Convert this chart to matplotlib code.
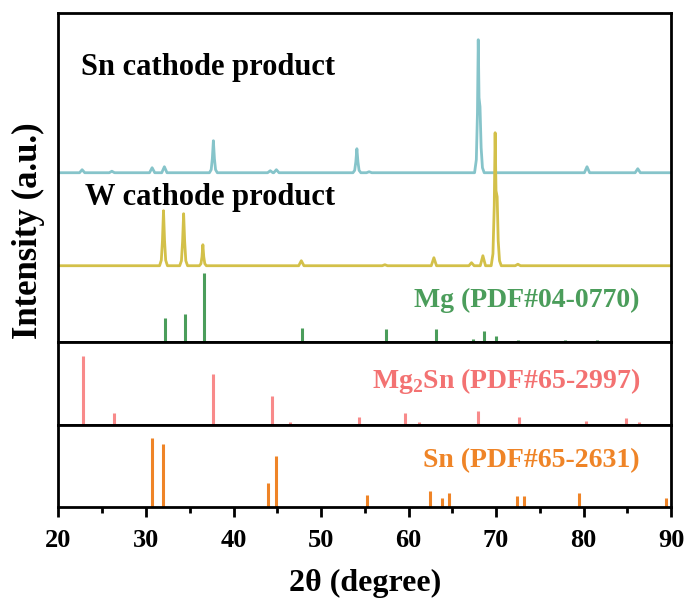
import numpy as np
import matplotlib
matplotlib.use("Agg")
import matplotlib.pyplot as plt
from matplotlib.ticker import MultipleLocator

plt.rcParams['font.family'] = ['Liberation Serif', 'DejaVu Serif']
plt.rcParams['font.weight'] = 'bold'
plt.rcParams['axes.labelweight'] = 'bold'
plt.rcParams['mathtext.fontset'] = 'custom'
plt.rcParams['mathtext.rm'] = 'Liberation Serif:bold'
plt.rcParams['mathtext.bf'] = 'Liberation Serif:bold'

# measured patterns (2theta, intensity a.u. above own baseline)
sn_x = [20, 22.4, 22.7, 23.0, 25.8, 26.1, 26.4, 30.4, 30.7, 31.0, 31.8, 32.1, 32.4,
        37.25, 37.45, 37.58, 37.7, 37.82, 37.95, 38.15,
        43.9, 44.2, 44.5, 44.6, 44.9, 45.2,
        53.65, 53.85, 53.98, 54.1, 54.22, 54.35, 54.55, 55.2, 55.5, 55.8,
        67.55, 67.75, 67.88, 67.97, 68.06, 68.17, 68.3, 68.45, 68.65,
        80.1, 80.4, 80.7, 85.9, 86.2, 86.5, 90]
sn_y = [0, 0, 3, 0, 0, 1.5, 0, 0, 5, 0, 0, 6, 0,
        0, 3, 14, 32, 14, 3, 0,
        0, 2, 0, 0, 3, 0,
        0, 2.4, 11, 24, 11, 2.4, 0, 0, 1, 0,
        0, 13, 60, 133, 75, 66, 25, 5, 0,
        0, 6, 0, 0, 4, 0, 0]

w_x = [20, 31.55, 31.75, 31.88, 32.0, 32.12, 32.25, 32.45,
       33.85, 34.05, 34.18, 34.3, 34.42, 34.55, 34.75,
       36.1, 36.28, 36.4, 36.5, 36.6, 36.72, 36.9,
       47.45, 47.75, 48.05, 57.0, 57.3, 57.6,
       62.6, 62.9, 63.2, 66.9, 67.2, 67.5, 68.2, 68.5, 68.8,
       69.45, 69.65, 69.8, 69.9, 70.0, 70.13, 70.25, 70.4, 70.6,
       72.2, 72.5, 72.8, 90]
w_y = [0, 0, 5.5, 25, 55, 25, 5.5, 0,
       0, 5, 24, 52, 24, 5, 0,
       0, 2, 9, 21, 9, 2, 0,
       0, 5, 0, 0, 1, 0,
       0, 8, 0, 0, 3, 0, 0, 10, 0,
       0, 12, 60, 133, 75, 69, 25, 5, 0,
       0, 1.5, 0, 0]

# reference cards (2theta, relative intensity %)
mg_pos = [32.2, 34.4, 36.6, 47.8, 57.4, 63.1, 67.4, 68.6, 70.0, 72.5, 77.9, 81.5]
mg_int = [34, 40, 100, 20, 18, 18, 3.5, 16, 9, 3, 3, 3]

mg2sn_pos = [22.8, 26.4, 37.6, 44.4, 46.5, 54.3, 59.6, 61.2, 67.9, 72.6, 80.3, 84.8, 86.3]
mg2sn_int = [100, 17, 74, 42, 5, 12, 17, 5, 20, 11, 6, 10, 4]

sn_pos = [30.65, 32.0, 43.9, 44.9, 55.3, 62.5, 63.8, 64.6, 72.4, 73.2, 79.5, 89.4]
sn_int = [100, 91, 34, 74, 17, 23, 13, 20, 15, 15, 20, 13]

c_sn = '#86c4ca'
c_w = '#d3c049'
c_mg = '#4b9d5b'
c_mg2sn = '#f88a8a'
c_snref = '#ef8427'

fig = plt.figure(figsize=(6.89, 6.06), dpi=100)
L, W = 0.0849, 0.889
ax1 = fig.add_axes([L, 0.4361, W, 0.5424])
ax2 = fig.add_axes([L, 0.2987, W, 0.1374])
ax3 = fig.add_axes([L, 0.1639, W, 0.1348])

ax1.plot(sn_x, np.array(sn_y) + 169, color=c_sn, lw=2.0)
ax1.plot(w_x, np.array(w_y) + 76, color=c_w, lw=2.0)
ax1.vlines(mg_pos, 0, np.array(mg_int) * 0.684, color=c_mg, lw=2.2)
ax1.set_ylim(0, 328.7)
ax1.text(22.57, 266.5, 'Sn cathode product', fontsize=22, ha='left', va='baseline')
ax1.text(23.03, 136.5, 'W cathode product', fontsize=22, ha='left', va='baseline')
ax1.text(86.45, 34.7, 'Mg (PDF#04-0770)', fontsize=20, ha='right', va='baseline', color=c_mg)

ax2.vlines(mg2sn_pos, 0, np.array(mg2sn_int) * 0.693, color=c_mg2sn, lw=2.2)
ax2.set_ylim(0, 83.3)
ax2.text(86.45, 37, 'Mg$_2$Sn (PDF#65-2997)', fontsize=20, ha='right', va='baseline',
         color='#f37272')

ax3.vlines(sn_pos, 0, np.array(sn_int) * 0.684, color=c_snref, lw=2.2)
ax3.set_ylim(0, 81.7)
ax3.text(86.45, 39.7, 'Sn (PDF#65-2631)', fontsize=20, ha='right', va='baseline', color=c_snref)

for ax in (ax1, ax2, ax3):
    ax.set_xlim(20, 90)
    ax.set_yticks([])
    for s in ax.spines.values():
        s.set_linewidth(2)
    ax.tick_params(axis='x', which='both', bottom=False, labelbottom=False)

ax3.xaxis.set_major_locator(MultipleLocator(10))
ax3.xaxis.set_minor_locator(MultipleLocator(5))
ax3.tick_params(axis='x', which='major', bottom=True, labelbottom=True, direction='out',
                length=7, width=2, labelsize=19, pad=9)
ax3.tick_params(axis='x', which='minor', bottom=True, direction='out', length=4, width=2)
ax3.set_xlabel('2θ (degree)', fontsize=23, fontweight='bold', labelpad=12)

fig.text(0.042, 0.62, 'Intensity (a.u.)', rotation=90, fontsize=25, fontweight='bold',
         ha='center', va='center')

fig.savefig('out.png', dpi=100)
